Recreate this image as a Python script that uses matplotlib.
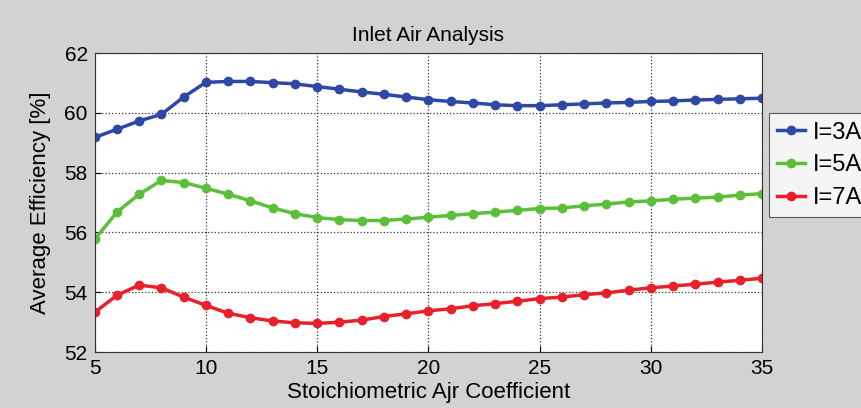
import matplotlib
matplotlib.use('Agg')
import matplotlib.pyplot as plt
import numpy as np

plt.rcParams['font.family'] = ['Liberation Sans', 'DejaVu Sans']

# data
x = list(range(5, 36))
eff_3a = [59.18, 59.45, 59.73, 59.95, 60.53, 61.02, 61.05, 61.05, 61.01, 60.97,
          60.88, 60.79, 60.70, 60.62, 60.53, 60.44, 60.38, 60.33, 60.27, 60.24,
          60.24, 60.27, 60.30, 60.33, 60.35, 60.38, 60.40, 60.43, 60.45, 60.47, 60.49]
eff_5a = [55.77, 56.68, 57.28, 57.74, 57.67, 57.48, 57.28, 57.06, 56.82, 56.63,
          56.50, 56.43, 56.40, 56.40, 56.45, 56.51, 56.57, 56.63, 56.68, 56.74,
          56.80, 56.82, 56.89, 56.95, 57.02, 57.06, 57.11, 57.15, 57.18, 57.25, 57.30]
eff_7a = [53.33, 53.90, 54.24, 54.15, 53.84, 53.56, 53.30, 53.15, 53.04, 52.98,
          52.96, 53.00, 53.07, 53.19, 53.28, 53.38, 53.45, 53.55, 53.62, 53.70,
          53.79, 53.84, 53.92, 53.98, 54.07, 54.15, 54.21, 54.27, 54.34, 54.40, 54.47]
labels = ['I=3A', 'I=5A', 'I=7A']
colors = ['#2f48a6', '#5cbf3a', '#e8202c']

bg = '#d2d2d2'
fig = plt.figure(figsize=(8.61, 4.08), dpi=100, facecolor=bg)
ax = fig.add_axes([0.110, 0.137, 0.775, 0.733])
ax.set_facecolor('white')

for y, lab, c in zip([eff_3a, eff_5a, eff_7a], labels, colors):
    ax.plot(x, y, '-o', color=c, lw=2.5, ms=6, label=lab)

ax.set_xlim(5, 35)
ax.set_ylim(52, 62)
ax.set_xticks([5, 10, 15, 20, 25, 30, 35])
ax.set_yticks([52, 54, 56, 58, 60, 62])
ax.tick_params(labelsize=15, direction='in', length=4)
ax.tick_params(axis='x', pad=5)
ax.tick_params(axis='y', pad=5)
ax.grid(True, color='#333333', linestyle=':', linewidth=0.9)
for s in ax.spines.values():
    s.set_color('#333333')
    s.set_linewidth(0.8)

ax.set_title('Inlet Air Analysis', fontsize=15, pad=9)
ax.set_xlabel('Stoichiometric Ajr Coefficient', fontsize=16, labelpad=3)
ax.set_ylabel('Average Efficiency [%]', fontsize=16, labelpad=10)

leg = fig.legend(loc='upper left', bbox_to_anchor=(0.893, 0.722), fontsize=17,
                 frameon=True, fancybox=False, handlelength=1.2, handletextpad=0.3,
                 borderpad=0.35, labelspacing=0.45, borderaxespad=0)
leg.get_frame().set_edgecolor('#333333')
leg.get_frame().set_facecolor('white')
leg.get_frame().set_linewidth(0.8)

fig.savefig('out.png', dpi=100, facecolor=bg)
